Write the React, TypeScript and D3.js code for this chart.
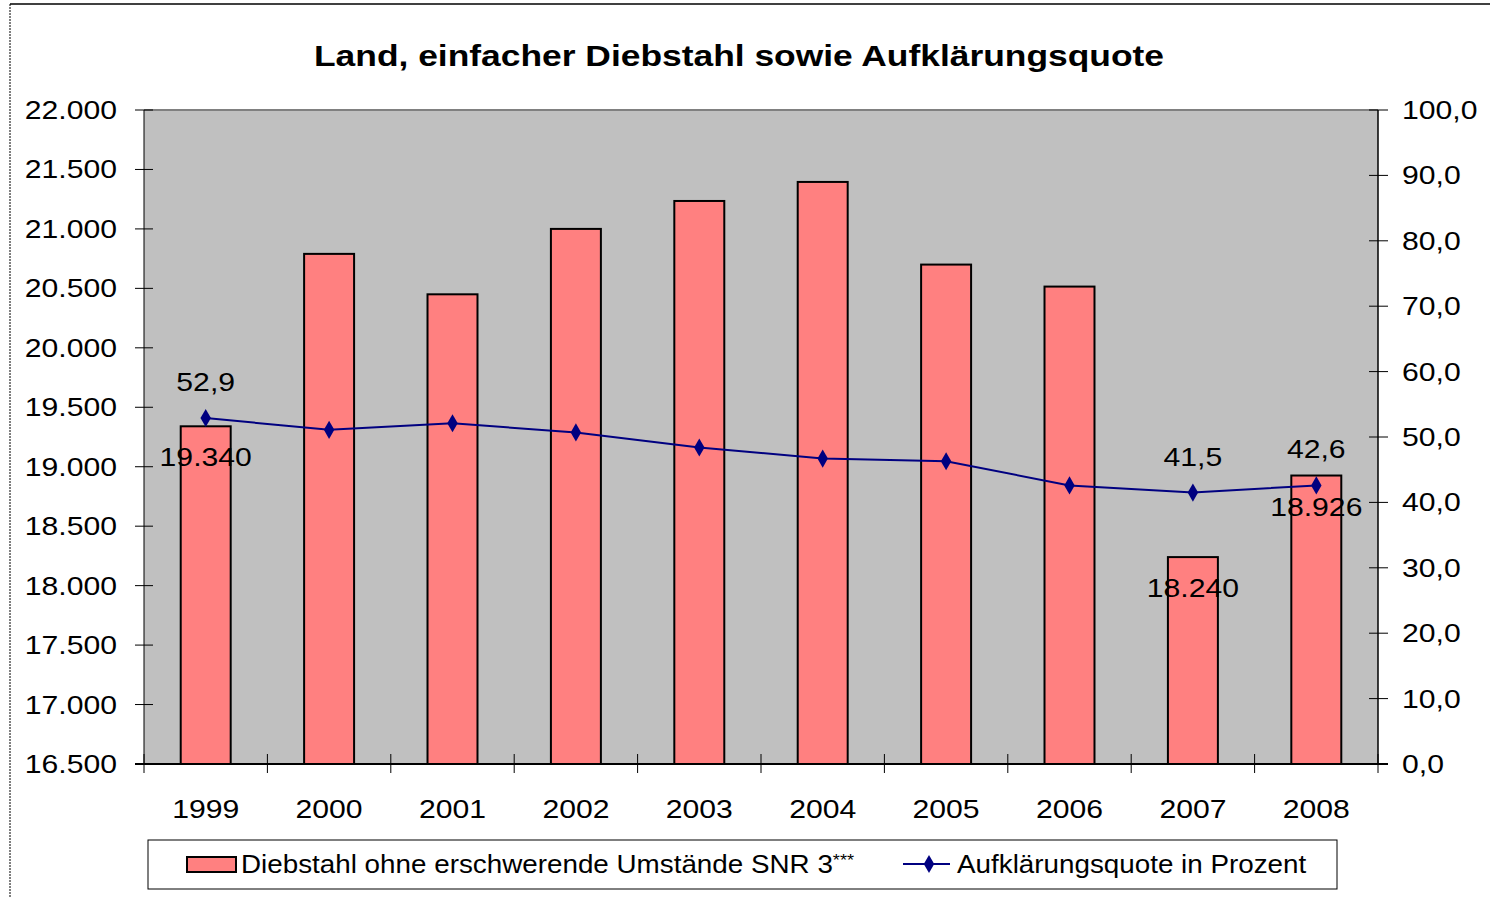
import React from "react";
import * as d3 from "d3";

const years = ["1999", "2000", "2001", "2002", "2003", "2004", "2005", "2006", "2007", "2008"];
const theft = [19340, 20790, 20450, 21000, 21235, 21395, 20700, 20515, 18240, 18926];
const rate = [52.9, 51.1, 52.1, 50.7, 48.4, 46.7, 46.3, 42.6, 41.5, 42.6];
const labelled = ["1999", "2007", "2008"];
const leftTicks = d3.range(16500, 22001, 500);
const rightTicks = d3.range(0, 101, 10);

const title = "Land, einfacher Diebstahl sowie Aufklärungsquote";
const barName = "Diebstahl ohne erschwerende Umstände SNR 3";
const lineName = "Aufklärungsquote in Prozent";

const font = "'Liberation Sans', Arial, sans-serif";

const fmtLeft = (v: number) => d3.format(",")(v).replace(/,/g, ".");
const fmtRight = (v: number) => v.toFixed(1).replace(".", ",");

// text stretched sideways like the original picture
const T = ({ x, y, anchor = "middle", size = 26, weight = "normal", sx = 1.16, children }: any) => (
  <text
    transform={`translate(${x}, ${y}) scale(${sx}, 1)`}
    textAnchor={anchor}
    fontFamily={font}
    fontSize={size}
    fontWeight={weight}
    fill="#000"
  >
    {children}
  </text>
);

export default function App() {
  const width = 1490;
  const height = 897;
  const left = 144;
  const right = 1378;
  const top = 110;
  const bottom = 764;

  const x = d3.scaleBand().domain(years).range([left, right]).paddingInner(0.595).paddingOuter(0.2975);
  const band = d3.scaleBand().domain(years).range([left, right]);
  const yL = d3.scaleLinear().domain([16500, 22000]).range([bottom, top]);
  const yR = d3.scaleLinear().domain([0, 100]).range([bottom, top]);
  const cx = (yr: string) => band(yr)! + band.bandwidth() / 2;

  const line = d3
    .line<number>()
    .x((_, i) => cx(years[i]))
    .y((d) => yR(d));

  const diamond = d3.symbol().type(d3.symbolDiamond).size(95)();

  return (
    <svg width={width} height={height} style={{ position: "absolute", left: 0, top: 0 }}>
      <rect x={0} y={0} width={width} height={height} fill="#fff" />
      {/* outer chart frame */}
      <line x1={10} y1={4} x2={width} y2={4} stroke="#000" strokeWidth={1.5} />
      <line x1={10} y1={4} x2={10} y2={height} stroke="#000" strokeWidth={1} strokeDasharray="2,1" />

      <T x={739} y={66} size={30} sx={1.18} weight="bold">
        {title}
      </T>

      {/* plot area */}
      <rect x={left} y={top} width={right - left} height={bottom - top} fill="#C0C0C0" />
      <line x1={left} y1={top} x2={right} y2={top} stroke="#808080" strokeWidth={2} />

      {years.map((yr, i) => (
        <rect
          key={yr}
          x={x(yr)}
          y={yL(theft[i])}
          width={x.bandwidth()}
          height={bottom - yL(theft[i])}
          fill="#FF8080"
          stroke="#000"
          strokeWidth={2}
        />
      ))}

      <path d={line(rate)!} fill="none" stroke="#000080" strokeWidth={2} />
      {rate.map((r, i) => (
        <path key={i} d={diamond!} transform={`translate(${cx(years[i])}, ${yR(r)})`} fill="#000080" />
      ))}

      {/* axes */}
      <line x1={left} y1={top} x2={left} y2={bottom} stroke="#000" strokeWidth={1} />
      <line x1={right} y1={top} x2={right} y2={bottom} stroke="#000" strokeWidth={1.5} />
      <line x1={left - 9} y1={bottom} x2={right + 10} y2={bottom} stroke="#000" strokeWidth={2} />

      {leftTicks.map((t) => (
        <g key={t}>
          <line x1={left - 9} x2={left + 9} y1={yL(t)} y2={yL(t)} stroke="#000" />
          <T x={117} y={yL(t) + 9} anchor="end">
            {fmtLeft(t)}
          </T>
        </g>
      ))}
      {rightTicks.map((t) => (
        <g key={t}>
          <line x1={right - 9} x2={right + 10} y1={yR(t)} y2={yR(t)} stroke="#000" />
          <T x={1402} y={yR(t) + 9} anchor="start">
            {fmtRight(t)}
          </T>
        </g>
      ))}
      {[...years, "end"].map((yr, i) => {
        const xx = left + i * band.bandwidth();
        return <line key={yr} x1={xx} x2={xx} y1={bottom - 10} y2={bottom + 9} stroke="#000" />;
      })}
      {years.map((yr) => (
        <T key={yr} x={cx(yr)} y={818}>
          {yr}
        </T>
      ))}

      {/* data labels */}
      {years.map((yr, i) =>
        labelled.includes(yr) ? (
          <g key={yr}>
            <T x={cx(yr)} y={yL(theft[i]) + 40}>
              {fmtLeft(theft[i])}
            </T>
            <T x={cx(yr)} y={yR(rate[i]) - 27}>
              {fmtRight(rate[i])}
            </T>
          </g>
        ) : null
      )}

      {/* legend */}
      <rect x={148} y={840} width={1189} height={49} fill="#fff" stroke="#000" strokeWidth={1} />
      <rect x={187} y={857} width={49} height={15} fill="#FF8080" stroke="#000" strokeWidth={2} />
      <T x={241} y={873} anchor="start" sx={1.07}>
        {barName}
        <tspan fontSize={17} dy={-7}>***</tspan>
      </T>
      <line x1={903} x2={950} y1={864} y2={864} stroke="#000080" strokeWidth={2} />
      <path d={diamond!} transform="translate(929, 864)" fill="#000080" />
      <T x={957} y={873} anchor="start" sx={1.07}>
        {lineName}
      </T>
    </svg>
  );
}
